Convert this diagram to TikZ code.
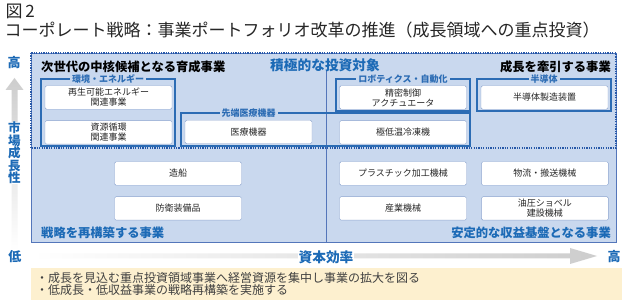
\documentclass[tikz,border=0pt]{standalone}
\usepackage{fontspec}
\setmainfont{Noto Sans CJK JP}
\usetikzlibrary{positioning}

\definecolor{fundopainel}{RGB}{201,216,238}
\definecolor{bordapainel}{RGB}{84,118,186}
\definecolor{azulgrupo}{RGB}{44,108,180}
\definecolor{azultexto}{RGB}{28,106,182}
\definecolor{pontilhado}{RGB}{38,88,168}
\definecolor{bordacaixa}{RGB}{140,164,206}
\definecolor{creme}{RGB}{253,240,207}
\definecolor{cinzaseta}{RGB}{205,205,205}

\begin{document}
\begin{tikzpicture}[
  x=1pt, y=-1pt,
  font=\fontsize{9}{10}\selectfont,
  caixa/.style={draw=bordacaixa, fill=white, rounded corners=1.5pt, align=center,
                minimum width=127pt, minimum height=23.5pt, inner sep=1pt, text=black!85},
  grupo/.style={draw=azulgrupo, line width=1.2pt},
  titulogrupo/.style={fill=fundopainel, text=azulgrupo, inner sep=2pt,
                      font=\fontsize{9}{10}\selectfont\bfseries},
  rotulo/.style={inner sep=0pt, font=\fontsize{12.3}{14}\selectfont\bfseries},
  eixo/.style={inner sep=0.5pt, text=azultexto, font=\fontsize{13}{13}\selectfont\bfseries},
  node distance=11pt and 14.5pt
]
  \path[use as bounding box, fill=white] (0,0) rectangle (624,304);

  % Titulo
  \node[anchor=base west, font=\fontsize{17}{17}\selectfont, text=black!85] (figura) at (2,18) {図\,2};
  \node[anchor=base west, font=\fontsize{17}{17}\selectfont, text=black!85] (titulo) at (1,37)
       {コーポレート戦略：事業ポートフォリオ改革の推進（成長領域への重点投資）};

  % Painel
  \draw[bordapainel, fill=fundopainel] (31,53) rectangle (616,242);
  \draw[pontilhado, line width=1.5pt, dash pattern=on 1.2pt off 1.2pt] (31,53) rectangle (616,148);
  \draw[bordapainel] (326,71) -- (326,242);

  \node[rotulo, anchor=west] (ikusei) at (41,67) {次世代の中核候補となる育成事業};
  \node[rotulo, text=azultexto, font=\fontsize{13.7}{14}\selectfont\bfseries] (sekkyoku) at (325,65) {積極的な投資対象};
  \node[rotulo, anchor=east] (kenin) at (611,67) {成長を牽引する事業};

  % Grupos
  \draw[grupo] (41,79) rectangle (175,146);
  \draw[grupo] (181,113) rectangle (470,146);
  \draw[grupo] (336,79) rectangle (470,111);
  \draw[grupo] (477,79) rectangle (611,111);
  \node[titulogrupo] (gkankyo) at (108,79) {環境・エネルギー};
  \node[titulogrupo] (giryo) at (248.5,113) {先端医療機器};
  \node[titulogrupo] (grobot) at (403,79) {ロボティクス・自動化};
  \node[titulogrupo] (ghandotai) at (544,79) {半導体};

  % Caixas de cima
  \node[caixa] (saisei) at (108.5,97.5) {再生可能エネルギー\\関連事業};
  \node[caixa, below=of saisei] (shigen) {資源循環\\関連事業};
  \node[caixa] (iryo) at (248.5,132) {医療機器};
  \node[caixa] (seimitsu) at (403,97.5) {精密制御\\アクチュエータ};
  \node[caixa, below=of seimitsu] (gokuteion) {極低温冷凍機};
  \node[caixa] (handotai) at (544.5,97.5) {半導体製造装置};

  % Caixas de baixo
  \node[caixa] (zosen) at (178,173.5) {造船};
  \node[caixa, below=of zosen] (boei) {防衛装備品};
  \node[caixa] (plastic) at (403,173.5) {プラスチック加工機械};
  \node[caixa, right=of plastic] (butsuryu) {物流・搬送機械};
  \node[caixa, below=of plastic] (sangyo) {産業機械};
  \node[caixa, right=of sangyo] (yuatsu) {油圧ショベル\\建設機械};

  \node[rotulo, anchor=west, text=azultexto] (saikochiku) at (41,233) {戦略を再構築する事業};
  \node[rotulo, anchor=east, text=azultexto] (antei) at (611,233) {安定的な収益基盤となる事業};

  % Eixos
  \shade[top color=cinzaseta, bottom color=white]
    (14.5,78) -- (23.5,90) -- (17.5,90) -- (17.5,250) -- (11.5,250) -- (11.5,90) -- (5.5,90) -- cycle;
  \shade[left color=white, right color=cinzaseta]
    (33,253.5) -- (570,253.5) -- (570,248) -- (597,256) -- (570,264) -- (570,258.5) -- (33,258.5) -- cycle;
  \node[eixo] (altoy) at (14,62.5) {高};
  \node[eixo, fill=white, align=center, font=\fontsize{12.5}{12.5}\selectfont\bfseries] (mercado) at (14.5,153) {市\\場\\成\\長\\性};
  \node[eixo] (baixo) at (15,257) {低};
  \node[eixo, fill=white, font=\fontsize{13.7}{14}\selectfont\bfseries] (capital) at (326,257) {資本効率};
  \node[eixo] (altox) at (614,257) {高};

  % Nota
  \node[fill=creme, anchor=north west, align=left, text width=581pt, inner xsep=5pt, inner ysep=0pt,
        minimum height=32pt, text=black!75, font=\fontsize{12}{12}\selectfont] (nota) at (31,268)
       {・成長を見込む重点投資領域事業へ経営資源を集中し事業の拡大を図る\\・低成長・低収益事業の戦略再構築を実施する};
\end{tikzpicture}
\end{document}
